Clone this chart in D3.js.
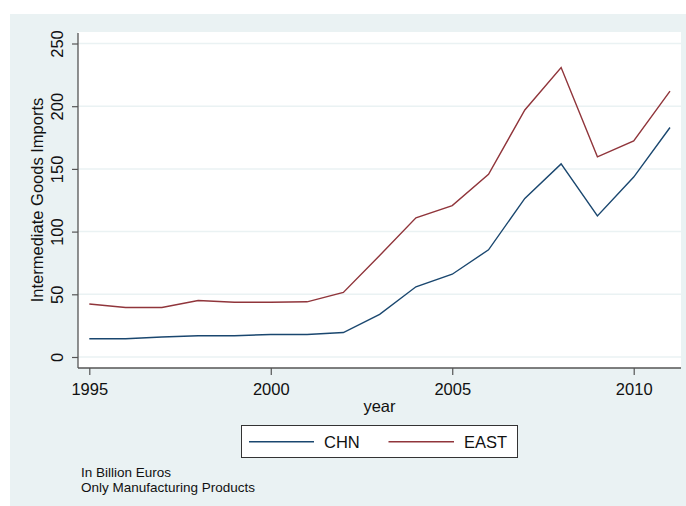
<!DOCTYPE html>
<html>
<head>
<meta charset="utf-8">
<script src="https://cdn.jsdelivr.net/npm/d3@7"></script>
<style>
  html, body { margin: 0; padding: 0; background: #fff; }
  svg { display: block; font-family: "Liberation Sans", Arial, sans-serif; }
</style>
</head>
<body>
<svg id="chart" width="686" height="506"></svg>
<script>
const years = [1995,1996,1997,1998,1999,2000,2001,2002,2003,2004,2005,2006,2007,2008,2009,2010,2011];
const chn  = [14.5,14.5,16,17,17,18,18,19.5,34,56,66,85.5,126.5,154,112.5,143.5,183];
const east = [42.3,39.5,39.5,45,43.7,43.7,44,51.5,81,111,120.7,145.7,197,230.8,159.6,172.3,212];
const seriesNames = ["CHN","EAST"];
const seriesColors = ["#1a476f","#90353b"];
const xTicks = [1995,2000,2005,2010];
const yTicks = [0,50,100,150,200,250];
const yTitle = "Intermediate Goods Imports";
const xTitle = "year";
const notes = ["In Billion Euros","Only Manufacturing Products"];

const svg = d3.select("#chart");
const bg = "#eaf2f3";
svg.append("rect").attr("x",10).attr("y",14).attr("width",676).attr("height",492).attr("fill",bg);

const plot = {left:78, top:32, right:681, bottom:368};
svg.append("rect").attr("x",plot.left).attr("y",plot.top)
  .attr("width",plot.right-plot.left).attr("height",plot.bottom-plot.top).attr("fill","#fff");

const x = d3.scaleLinear().domain([1995,2011]).range([89.3,670]);
const y = d3.scaleLinear().domain([0,250]).range([357,43.5]);

// gridlines
svg.append("g").selectAll("line").data(yTicks).join("line")
  .attr("x1",plot.left).attr("x2",plot.right)
  .attr("y1",d=>y(d)).attr("y2",d=>y(d))
  .attr("stroke",bg).attr("stroke-width",1.5);

// y axis
const yAxis = svg.append("g").attr("transform",`translate(${plot.left},0)`)
  .call(d3.axisLeft(y).tickValues(yTicks).tickSize(6).tickPadding(9));
yAxis.select(".domain").attr("d",`M0,${plot.top+1}V${plot.bottom}`).attr("stroke","#555").attr("stroke-width",1.3);
yAxis.selectAll(".tick line").attr("stroke","#555").attr("stroke-width",1.2);
yAxis.selectAll(".tick text")
  .attr("font-size","16.5px").attr("fill","#111")
  .attr("transform","rotate(-90)")
  .attr("x",0).attr("y",-14.7).attr("dy",null)
  .attr("text-anchor","middle");

// x axis
const xAxis = svg.append("g").attr("transform",`translate(0,${plot.bottom})`)
  .call(d3.axisBottom(x).tickValues(xTicks).tickFormat(d3.format("d")).tickSize(7).tickPadding(4));
xAxis.select(".domain").attr("d",`M${plot.left},0H${plot.right}`).attr("stroke","#555").attr("stroke-width",1.3);
xAxis.selectAll(".tick line").attr("stroke","#555").attr("stroke-width",1.2);
xAxis.selectAll(".tick text").attr("font-size","16.5px").attr("fill","#111")
  .attr("y",27).attr("dy",null);

// titles
svg.append("text").attr("transform",`translate(43.3,${(plot.top+plot.bottom)/2}) rotate(-90)`)
  .attr("text-anchor","middle").attr("font-size","16.5px").attr("fill","#111").text(yTitle);
svg.append("text").attr("x",(plot.left+plot.right)/2).attr("y",411.5)
  .attr("text-anchor","middle").attr("font-size","16.5px").attr("fill","#111").text(xTitle);

// lines
const line = d3.line().x((d,i)=>x(years[i])).y(d=>y(d));
[chn,east].forEach((s,k)=>{
  svg.append("path").datum(s).attr("d",line).attr("fill","none")
    .attr("stroke",seriesColors[k]).attr("stroke-width",1.4).attr("stroke-linejoin","miter");
});

// legend
const lg = svg.append("g");
lg.append("rect").attr("x",241.5).attr("y",425.5).attr("width",276).attr("height",32)
  .attr("fill","#fff").attr("stroke","#333").attr("stroke-width",1);
const legX = [[249,314,324],[388.5,454,464]];
seriesNames.forEach((n,k)=>{
  lg.append("line").attr("x1",legX[k][0]).attr("x2",legX[k][1]).attr("y1",441.7).attr("y2",441.7)
    .attr("stroke",seriesColors[k]).attr("stroke-width",1.4);
  lg.append("text").attr("x",legX[k][2]).attr("y",448.3).attr("font-size","16.5px").attr("fill","#111").text(n);
});

// notes
notes.forEach((t,i)=>{
  svg.append("text").attr("x",81).attr("y",477+i*14.7).attr("font-size","13.5px").attr("fill","#111").text(t);
});
</script>
</body>
</html>
